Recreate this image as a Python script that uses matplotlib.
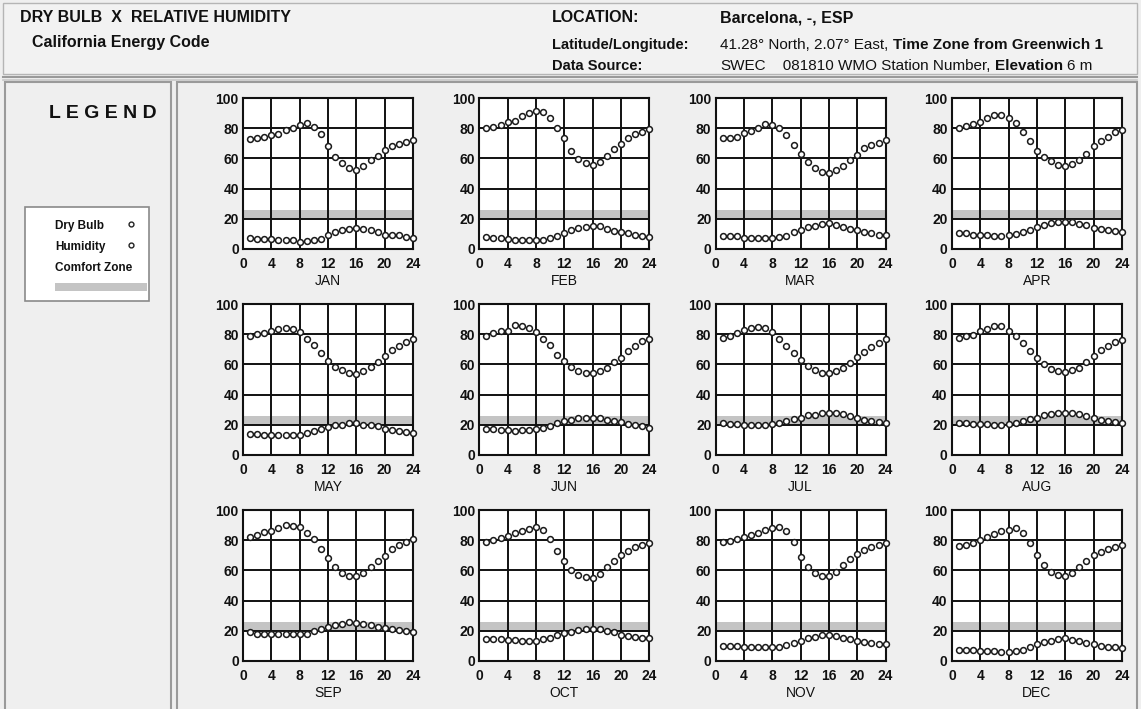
import numpy as np
import matplotlib
matplotlib.use('Agg')
import matplotlib.pyplot as plt
from matplotlib.patches import Rectangle

plt.rcParams['font.family'] = ['Liberation Sans', 'DejaVu Sans']
plt.rcParams['font.weight'] = 'bold'

# hourly values, hours 1..24
hours = np.arange(1, 25)
months = ['JAN', 'FEB', 'MAR', 'APR', 'MAY', 'JUN',
          'JUL', 'AUG', 'SEP', 'OCT', 'NOV', 'DEC']

# relative humidity (%)
rh_jan = [72.8, 73.7, 74.0, 75.5, 76.0, 78.5, 80.0, 82.3, 83.4, 81.0, 76.0, 68.4, 61.0, 56.7, 53.4, 52.5, 55.0, 58.7, 61.6, 65.3, 68.4, 69.8, 70.6, 72.4]
rh_feb = [80.3, 80.7, 82.3, 83.8, 85.0, 87.8, 89.8, 91.6, 90.9, 87.0, 80.3, 73.4, 65.0, 59.6, 57.0, 55.9, 57.6, 61.4, 65.9, 69.8, 73.4, 76.3, 77.6, 79.2]
rh_mar = [73.4, 73.6, 74.3, 76.5, 78.0, 80.3, 82.7, 82.0, 80.3, 75.6, 69.0, 62.7, 57.9, 53.9, 50.8, 50.6, 52.1, 54.8, 59.2, 62.5, 66.7, 68.7, 70.5, 72.1]
rh_apr = [80.0, 81.6, 82.5, 83.8, 86.5, 88.7, 88.7, 86.5, 83.4, 77.8, 71.2, 65.0, 60.8, 58.1, 55.7, 55.0, 56.1, 59.0, 62.7, 68.0, 71.4, 74.3, 77.2, 78.7]
rh_may = [78.5, 80.0, 80.7, 81.8, 83.5, 84.4, 83.5, 81.3, 76.9, 72.7, 67.3, 62.0, 58.5, 56.0, 54.5, 53.4, 55.4, 58.5, 61.8, 65.5, 69.5, 72.5, 74.7, 76.9]
rh_jun = [79.1, 80.9, 82.0, 82.2, 86.2, 85.5, 84.4, 81.3, 76.9, 73.0, 66.4, 62.0, 58.5, 55.8, 54.5, 54.0, 55.6, 57.8, 61.8, 64.2, 68.6, 72.5, 75.2, 76.9]
rh_jul = [77.6, 79.1, 80.7, 82.6, 84.2, 85.0, 84.2, 81.3, 76.9, 72.5, 67.3, 62.9, 58.9, 56.0, 54.5, 54.0, 55.4, 57.8, 60.7, 64.8, 68.4, 71.4, 74.0, 76.9]
rh_aug = [77.6, 79.1, 79.8, 82.2, 83.5, 85.5, 85.5, 82.2, 79.1, 74.3, 68.6, 64.2, 60.0, 56.9, 55.4, 54.9, 56.5, 57.8, 61.8, 65.7, 69.5, 72.5, 74.7, 76.0]
rh_sep = [82.4, 83.3, 85.7, 86.4, 88.2, 89.8, 89.5, 88.9, 84.9, 80.8, 73.9, 67.9, 62.4, 58.4, 56.6, 56.6, 58.6, 62.1, 66.4, 69.7, 73.9, 76.8, 79.1, 80.6]
rh_oct = [79.0, 80.0, 81.5, 83.0, 84.5, 86.0, 87.5, 88.5, 86.5, 80.5, 73.0, 66.0, 60.0, 57.0, 55.5, 55.0, 57.5, 62.0, 66.5, 70.0, 73.0, 75.5, 77.0, 78.0]
rh_nov = [78.5, 79.5, 80.5, 82.0, 83.5, 85.0, 86.5, 88.0, 88.5, 86.0, 79.0, 69.0, 62.0, 58.0, 56.5, 56.5, 59.0, 63.5, 67.5, 71.0, 73.5, 75.5, 77.0, 78.0]
rh_dec = [76.0, 77.0, 78.0, 80.0, 82.0, 84.0, 86.0, 87.0, 88.0, 85.0, 78.0, 70.0, 63.5, 59.0, 57.0, 56.0, 58.0, 62.5, 66.5, 70.0, 72.5, 74.0, 75.5, 76.5]

# dry bulb temperature (C)
db_jan = [7.0, 6.4, 6.4, 6.4, 5.7, 5.7, 5.7, 4.6, 5.5, 6.2, 6.8, 9.0, 11.0, 12.4, 13.0, 13.9, 13.5, 12.4, 11.3, 9.5, 9.3, 9.0, 8.2, 7.0]
db_feb = [8.0, 7.3, 7.1, 6.4, 6.2, 5.8, 5.8, 5.8, 5.8, 7.1, 8.6, 10.4, 12.4, 14.0, 14.9, 15.3, 15.1, 13.5, 12.0, 11.3, 10.4, 9.3, 8.6, 8.0]
db_mar = [8.9, 8.9, 8.9, 7.5, 7.1, 7.1, 7.1, 7.1, 8.0, 8.9, 11.1, 12.6, 14.4, 15.5, 16.4, 16.9, 16.0, 14.9, 13.3, 12.6, 11.3, 10.4, 9.5, 9.5]
db_apr = [10.6, 10.4, 9.5, 9.3, 9.3, 8.9, 8.6, 9.3, 10.2, 11.5, 12.9, 14.9, 16.2, 17.1, 18.0, 18.2, 18.0, 16.4, 15.7, 14.0, 13.1, 12.6, 12.0, 11.3]
db_may = [13.8, 13.6, 13.0, 13.0, 13.0, 13.0, 13.0, 13.4, 14.3, 15.6, 17.4, 18.5, 19.6, 20.0, 20.9, 20.9, 20.0, 19.6, 18.9, 17.4, 16.7, 15.8, 15.2, 14.3]
db_jun = [17.4, 17.4, 16.5, 16.5, 15.8, 16.5, 16.5, 17.4, 18.2, 19.3, 20.9, 22.2, 23.3, 24.2, 24.6, 24.8, 24.6, 23.1, 22.2, 21.8, 20.2, 19.6, 18.9, 18.2]
db_jul = [20.9, 20.2, 20.2, 19.6, 19.6, 19.6, 19.6, 20.2, 20.9, 22.4, 24.0, 24.8, 26.4, 26.8, 27.7, 28.1, 27.9, 27.0, 25.7, 24.6, 23.3, 22.6, 22.0, 20.9]
db_aug = [20.9, 20.9, 20.2, 20.2, 20.2, 19.6, 19.6, 20.2, 21.1, 22.4, 24.0, 24.8, 26.2, 27.0, 27.9, 27.9, 27.9, 27.0, 25.7, 24.8, 23.5, 22.6, 22.0, 21.5]
db_sep = [18.9, 18.0, 18.0, 18.0, 17.6, 17.6, 17.6, 17.6, 18.0, 19.6, 21.2, 22.3, 23.8, 24.7, 25.6, 25.4, 24.7, 23.8, 22.5, 21.8, 21.4, 20.7, 19.6, 18.9]
db_oct = [14.5, 14.5, 14.5, 14.0, 14.0, 13.5, 13.5, 13.5, 14.5, 15.5, 17.0, 18.5, 19.5, 20.5, 21.5, 21.5, 21.0, 20.0, 19.0, 17.5, 16.5, 16.0, 15.5, 15.0]
db_nov = [10.0, 10.0, 10.0, 9.5, 9.5, 9.0, 9.0, 9.0, 9.5, 10.5, 12.0, 13.5, 15.0, 16.0, 17.0, 17.0, 16.5, 15.5, 14.5, 13.5, 12.5, 12.0, 11.5, 11.0]
db_dec = [7.5, 7.0, 7.0, 6.5, 6.5, 6.5, 6.0, 6.0, 6.5, 7.5, 9.0, 11.0, 12.5, 13.5, 14.5, 15.0, 14.0, 13.0, 12.0, 11.0, 10.0, 9.5, 9.0, 8.5]

rh_all = [rh_jan, rh_feb, rh_mar, rh_apr, rh_may, rh_jun,
          rh_jul, rh_aug, rh_sep, rh_oct, rh_nov, rh_dec]
db_all = [db_jan, db_feb, db_mar, db_apr, db_may, db_jun,
          db_jul, db_aug, db_sep, db_oct, db_nov, db_dec]

comfort_zone = (20, 26)

W, H = 1141, 709
INK = '#111111'
BAND = '#c4c4c4'
fig = plt.figure(figsize=(W / 100, H / 100), dpi=100, facecolor='#efefef')

# background layer in pixel coordinates (y down)
bg = fig.add_axes([0, 0, 1, 1])
bg.set_xlim(0, W)
bg.set_ylim(H, 0)
bg.axis('off')

bg.add_patch(Rectangle((3, 3), 1134, 71, fc='#f2f2f2', ec='#b5b5b5', lw=1))
bg.plot([3, 1137], [76.5, 76.5], color='#9a9a9a', lw=1.5)
bg.plot([3, 1137], [79.5, 79.5], color='#c8c8c8', lw=1.2)
bg.add_patch(Rectangle((5, 82), 166, 630, fc='#efefef', ec='#9a9a9a', lw=1.5))
bg.add_patch(Rectangle((177, 82), 960, 630, fc='#efefef', ec='#9a9a9a', lw=1.5))

renderer = fig.canvas.get_renderer()


def run_text(x, y, parts, size):
    # write consecutive pieces of mixed weight on one line
    gap = 0.28 * size * 100 / 72
    for s, w in parts:
        t = bg.text(x, y, s, fontsize=size, fontweight=w, color=INK, va='center')
        x = t.get_window_extent(renderer).x1 + gap


bg.text(20, 18, 'DRY BULB  X  RELATIVE HUMIDITY', fontsize=11.5, color=INK, va='center')
bg.text(32, 43, 'California Energy Code', fontsize=11.5, color=INK, va='center')

bg.text(552, 18, 'LOCATION:', fontsize=11.5, color=INK, va='center')
bg.text(720, 18, 'Barcelona, -, ESP', fontsize=11.5, color=INK, va='center')
bg.text(552, 45, 'Latitude/Longitude:', fontsize=10.5, color=INK, va='center')
run_text(720, 45, [('41.28\u00b0 North, 2.07\u00b0 East,', 'normal'),
                   ('Time Zone from Greenwich 1', 'bold')], 11)
bg.text(552, 66, 'Data Source:', fontsize=10.5, color=INK, va='center')
run_text(720, 66, [('SWEC', 'normal'), ('   081810 WMO Station Number,', 'normal'),
                   ('Elevation', 'bold'), ('6 m', 'normal')], 11)

# legend panel
bg.text(103, 114, 'L E G E N D', fontsize=14, color=INK, ha='center', va='center')
bg.add_patch(Rectangle((25, 207), 124, 94, fc='white', ec='#8a8a8a', lw=1.2))
bg.text(55, 226, 'Dry Bulb', fontsize=8.5, color=INK, va='center')
bg.text(55, 247, 'Humidity', fontsize=8.5, color=INK, va='center')
bg.text(55, 268, 'Comfort Zone', fontsize=8.5, color=INK, va='center')
bg.plot([131, 131], [224, 245], 'o', ms=3.5, mfc='white', mec='#222222', mew=1, ls='none')
bg.add_patch(Rectangle((55, 283), 92, 8, fc=BAND, ec='none'))

# monthly panels
ax_w, ax_h = 170, 151
for i, (m, rh, db) in enumerate(zip(months, rh_all, db_all)):
    r, c = divmod(i, 4)
    left = 243 + 236.3 * c
    top = 98 + 206 * r
    ax = fig.add_axes([left / W, 1 - (top + ax_h) / H, ax_w / W, ax_h / H])
    ax.set_facecolor('white')
    ax.axhspan(*comfort_zone, color=BAND, lw=0, zorder=0)
    for series in (rh, db):
        ax.plot(hours, series, 'o', ms=4.2, mfc='white', mec='#1a1a1a',
                mew=1.1, ls='none', zorder=3, clip_on=False)
    ax.set_xlim(0, 24)
    ax.set_ylim(0, 100)
    ax.set_xticks(range(0, 25, 4))
    ax.set_yticks(range(0, 101, 20))
    ax.set_axisbelow(True)
    ax.grid(True, color=INK, lw=1.4)
    for sp in ax.spines.values():
        sp.set_color(INK)
        sp.set_linewidth(1.5)
    ax.tick_params(length=0, labelsize=10, colors=INK)
    ax.tick_params(axis='x', pad=6)
    ax.tick_params(axis='y', pad=3)
    ax.set_xlabel(m, fontsize=10, color=INK, labelpad=2)

fig.savefig('out.png', dpi=100, facecolor=fig.get_facecolor())
